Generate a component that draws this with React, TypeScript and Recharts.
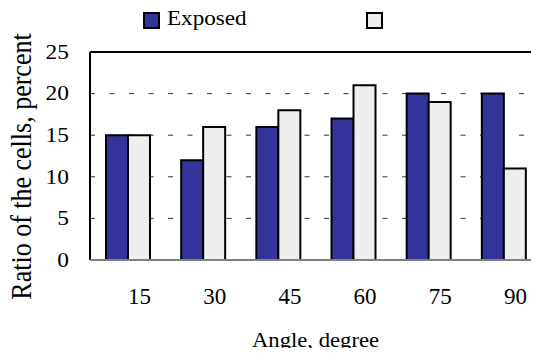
import React from 'react';
import { BarChart, Bar, XAxis, YAxis, CartesianGrid, Legend, ReferenceLine } from 'recharts';

const categories = ['15', '30', '45', '60', '75', '90'];
const exposed = [15, 12, 16, 17, 20, 20];
const control = [15, 16, 18, 21, 19, 11];
const yTicks = [0, 5, 10, 15, 20, 25];
const boundaryTicks = [0.5, 1.5, 2.5, 3.5, 4.5];

const data = categories.map((c, i) => ({ angle: c, idx: i, exposed: exposed[i], control: control[i] }));

const FONT = '"Liberation Serif", "Times New Roman", serif';
const BLUE = '#333399';
const GREY = '#eeeeee';
const SX = 1.17;

const legendOffsets: Record<string, number> = { exposed: 143, control: 366 };

const LegendContent = (props: any) => {
  const payload = props.payload || [];
  return (
    <div style={{ position: 'relative', width: 539, height: 40, fontFamily: FONT }}>
      {payload.map((e: any, i: number) => {
        const left = legendOffsets[e.dataKey] ?? 143 + i * 223;
        return (
          <React.Fragment key={i}>
            <div
              style={{
                position: 'absolute',
                left,
                top: 12,
                width: 17,
                height: 17,
                boxSizing: 'border-box',
                border: '2px solid #000',
                background: e.color,
              }}
            />
            <span
              style={{
                position: 'absolute',
                left: left + 24,
                top: 8,
                fontSize: 21,
                lineHeight: '21px',
                color: '#000',
                whiteSpace: 'nowrap',
                transform: 'scaleX(1.1)',
                transformOrigin: 'left top',
              }}
            >
              {e.value}
            </span>
          </React.Fragment>
        );
      })}
    </div>
  );
};

const XTick = (p: any) => (
  <text
    transform={`translate(${p.x + 12}, ${p.y}) scale(1.0, 1)`}
    x={0}
    y={0}
    dy="0.71em"
    textAnchor="middle"
    fontFamily={FONT}
    fontSize={23}
    fill="#000"
  >
    {p.payload.value}
  </text>
);

const YTick = (p: any) => (
  <text
    transform={`translate(69, ${p.y}) scale(${SX}, 1)`}
    x={0}
    y={0}
    dy="0.34em"
    textAnchor="end"
    fontFamily={FONT}
    fontSize={20}
    fill="#000"
  >
    {p.payload.value}
  </text>
);

export default function App() {
  return (
    <div style={{ margin: -8, width: 539, height: 356, overflow: 'hidden', position: 'relative', background: '#fff' }}>
      <BarChart
        width={541}
        height={356}
        data={data}
        margin={{ top: 52, right: 0, bottom: 0, left: 0 }}
        barGap={0}
        barSize={22}
      >
        <CartesianGrid vertical={false} stroke="#333" strokeDasharray="5 14.5" />
        <YAxis
          domain={[0, 25]}
          ticks={yTicks}
          width={90}
          tickLine={false}
          axisLine={{ stroke: '#000', strokeWidth: 2 }}
          tick={<YTick />}
          label={{
            content: (lp: any) => {
              const vb = lp.viewBox || {};
              const cy = (vb.y ?? 52) + (vb.height ?? 208) / 2 + 10.5;
              return (
                <text
                  transform={`translate(31, ${cy}) scale(${SX}, 1) rotate(-90)`}
                  x={0}
                  y={0}
                  textAnchor="middle"
                  fontFamily={FONT}
                  fontSize={26}
                  fill="#000"
                >
                  Ratio of the cells, percent
                </text>
              );
            },
          }}
        />
        <XAxis
          dataKey="angle"
          height={96}
          tickLine={false}
          axisLine={{ stroke: '#808080', strokeWidth: 2 }}
          tickMargin={22}
          tick={<XTick />}
          interval={0}
          label={{
            content: (lp: any) => {
              const vb = lp.viewBox || {};
              const cx = (vb.x ?? 90) + (vb.width ?? 451) / 2;
              return (
                <text
                  transform={`translate(${cx}, 347) scale(1.03, 1)`}
                  x={0}
                  y={0}
                  textAnchor="middle"
                  fontFamily={FONT}
                  fontSize={22}
                  fill="#000"
                >
                  Angle, degree
                </text>
              );
            },
          }}
        />
        <XAxis
          xAxisId="b"
          type="number"
          dataKey="idx"
          domain={[-0.5, 5.5]}
          ticks={boundaryTicks}
          mirror
          axisLine={false}
          tickSize={7}
          tickLine={{ stroke: '#b0b0b0', strokeWidth: 1.5 }}
          tick={() => <g />}
          height={0}
        />
        <ReferenceLine y={25} stroke="#000" strokeWidth={2} ifOverflow="visible" />
        <Legend
          content={<LegendContent />}
          layout="horizontal"
          verticalAlign="middle"
          align="center"
          wrapperStyle={{ top: 0, left: 0, width: 539, height: 40 }}
        />
        <Bar dataKey="exposed" name="Exposed" fill={BLUE} stroke="#000" strokeWidth={2} isAnimationActive={false} />
        <Bar dataKey="control" name="" fill={GREY} stroke="#000" strokeWidth={2} isAnimationActive={false} />
      </BarChart>
    </div>
  );
}
